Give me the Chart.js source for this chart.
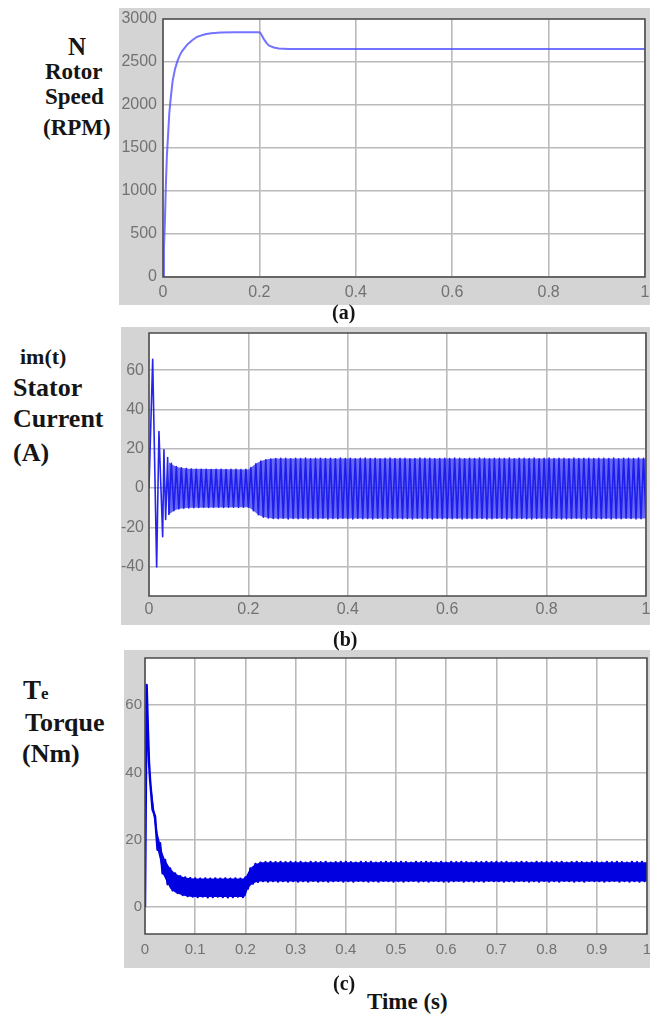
<!DOCTYPE html>
<html><head><meta charset="utf-8">
<script src="https://cdn.jsdelivr.net/npm/chart.js@4.4.1/dist/chart.umd.min.js"></script>
<style>
html,body{margin:0;padding:0;background:#fff;}
body{width:650px;height:1015px;position:relative;overflow:hidden;}
.panel{position:absolute;background:#d4d4d4;}
.panel canvas{display:block;}
.lbl{position:absolute;font-family:"Liberation Serif","Times New Roman",serif;font-weight:bold;color:#151515;line-height:1;white-space:nowrap;}
</style></head><body>

<div class="panel" style="left:119px;top:8px;width:531px;height:297px"><canvas id="cA" width="531" height="297"></canvas></div>
<div class="panel" style="left:121px;top:327px;width:529px;height:298px"><canvas id="cB" width="529" height="298"></canvas></div>
<div class="panel" style="left:124px;top:650px;width:526px;height:318px"><canvas id="cC" width="526" height="318"></canvas></div>

<div class="lbl" style="left:68px;top:34px;font-size:25px">N</div>
<div class="lbl" style="left:45px;top:60px;font-size:23px">Rotor</div>
<div class="lbl" style="left:45px;top:85px;font-size:23px">Speed</div>
<div class="lbl" style="left:43px;top:116px;font-size:23px">(RPM)</div>
<div class="lbl" style="left:332px;top:302px;font-size:20px">(a)</div>

<div class="lbl" style="left:20px;top:346px;font-size:22px">im(t)</div>
<div class="lbl" style="left:13px;top:375px;font-size:26px">Stator</div>
<div class="lbl" style="left:13px;top:406px;font-size:26px">Current</div>
<div class="lbl" style="left:13px;top:440px;font-size:26px">(A)</div>
<div class="lbl" style="left:333px;top:629px;font-size:20px">(b)</div>

<div class="lbl" style="left:23px;top:677px;font-size:27px">T<span style="font-size:17px">e</span></div>
<div class="lbl" style="left:25px;top:710px;font-size:26px">Torque</div>
<div class="lbl" style="left:22px;top:741px;font-size:26px">(Nm)</div>
<div class="lbl" style="left:333px;top:973px;font-size:20px">(c)</div>
<div class="lbl" style="left:367px;top:990px;font-size:23px">Time (s)</div>

<script>
// ---------- data ----------
const speedTime = [0, 0.002, 0.004, 0.006, 0.008, 0.010, 0.013, 0.016, 0.020, 0.025, 0.030, 0.035, 0.040,
  0.050, 0.060, 0.070, 0.080, 0.090, 0.100, 0.120, 0.150, 0.180, 0.200, 0.203, 0.206, 0.210, 0.215,
  0.220, 0.230, 0.240, 0.260, 0.300, 0.400, 0.500, 0.600, 0.700, 0.800, 0.900, 1.000];
const speedRPM = [0, 330, 650, 1080, 1400, 1600, 1900, 2080, 2280, 2420, 2510, 2580, 2630,
  2700, 2750, 2790, 2810, 2825, 2835, 2842, 2845, 2845, 2845, 2830, 2800, 2760, 2720,
  2690, 2668, 2658, 2652, 2650, 2650, 2650, 2650, 2650, 2650, 2650, 2650];

const stepTime = [
  0.010,0.015,0.020,0.025,0.030,0.035,0.040,0.045,0.050,0.055,0.060,0.065,0.070,0.075,0.080,0.085,0.090,0.095,
  0.100,0.105,0.110,0.115,0.120,0.125,0.130,0.135,0.140,0.145,0.150,0.155,0.160,0.165,0.170,0.175,0.180,0.185,0.190,0.195,
  0.200,0.205,0.210,0.215,0.220,0.225,0.230,0.235,0.240,0.245,0.250,0.255,0.260,0.265,0.270,0.275,0.280,0.285,0.290,0.295,
  0.300,0.305,0.310,0.315,0.320,0.325,0.330,0.335,0.340,0.345,0.350,0.355,0.360,0.365,0.370,0.375,0.380,0.385,0.390,0.395,
  0.400,0.405,0.410,0.415,0.420,0.425,0.430,0.435,0.440,0.445,0.450,0.455,0.460,0.465,0.470,0.475,0.480,0.485,0.490,0.495,
  0.500,0.505,0.510,0.515,0.520,0.525,0.530,0.535,0.540,0.545,0.550,0.555,0.560,0.565,0.570,0.575,0.580,0.585,0.590,0.595,
  0.600,0.605,0.610,0.615,0.620,0.625,0.630,0.635,0.640,0.645,0.650,0.655,0.660,0.665,0.670,0.675,0.680,0.685,0.690,0.695,
  0.700,0.705,0.710,0.715,0.720,0.725,0.730,0.735,0.740,0.745,0.750,0.755,0.760,0.765,0.770,0.775,0.780,0.785,0.790,0.795,
  0.800,0.805,0.810,0.815,0.820,0.825,0.830,0.835,0.840,0.845,0.850,0.855,0.860,0.865,0.870,0.875,0.880,0.885,0.890,0.895,
  0.900,0.905,0.910,0.915,0.920,0.925,0.930,0.935,0.940,0.945,0.950,0.955,0.960,0.965,0.970,0.975,0.980,0.985,0.990,0.995,
  1.000];

const currentEarlyTime = [0, 0.0074, 0.0154, 0.020, 0.0275, 0.030, 0.0335, 0.0375];
const currentEarly = [0, 65.6, -40.2, 28.8, -24.8, 19.5, -16.0, 15.5];
const currentSteps = [ // from t = 0.040
  -13.5, 12.6, -11.6, 11.0, -10.6, 10.3, -10.3, 10.0, -10.1, 9.7, -10.0, 9.6,
  -9.9, 9.5, -9.8, 9.6, -9.9, 9.4, -9.8, 9.5, -9.7, 9.6, -9.9, 9.4, -9.8, 9.5, -9.8, 9.6, -9.9, 9.4, -9.8, 9.5,
  -9.8, 10.4, -11.6, 12.4, -13.6, 13.8, -14.8, 14.4, -15.3, 14.8, -15.5, 15.0, -15.6, 15.2, -15.4, 15.1, -15.7, 14.9, -15.5, 15.2,
  -15.6, 15.0, -15.4, 15.3, -15.7, 14.9, -15.5, 15.1, -15.6, 15.2, -15.4, 15.0, -15.7, 15.1, -15.5, 14.9, -15.6, 15.3, -15.4, 15.0,
  -15.5, 15.2, -15.7, 14.9, -15.4, 15.1, -15.6, 15.3, -15.5, 15.0, -15.7, 15.2, -15.4, 14.9, -15.6, 15.1, -15.5, 15.3, -15.6, 15.0,
  -15.4, 15.1, -15.6, 15.2, -15.5, 14.9, -15.7, 15.0, -15.4, 15.3, -15.6, 15.1, -15.5, 15.2, -15.7, 14.9, -15.4, 15.0, -15.6, 15.2,
  -15.5, 15.0, -15.6, 15.3, -15.4, 15.1, -15.7, 14.9, -15.5, 15.2, -15.6, 15.0, -15.4, 15.3, -15.5, 15.1, -15.7, 14.9, -15.6, 15.2,
  -15.4, 15.2, -15.5, 15.0, -15.7, 15.3, -15.6, 14.9, -15.4, 15.1, -15.5, 15.2, -15.6, 15.0, -15.7, 15.3, -15.5, 14.9, -15.4, 15.1,
  -15.6, 15.3, -15.5, 15.0, -15.4, 15.2, -15.7, 15.1, -15.6, 14.9, -15.5, 15.3, -15.4, 15.0, -15.6, 15.2, -15.7, 15.1, -15.5, 15.0,
  -15.5, 15.1, -15.6, 15.2, -15.4, 15.0, -15.7, 15.3, -15.5, 14.9, -15.6, 15.1, -15.4, 15.2, -15.5, 15.0, -15.7, 15.3, -15.6, 15.1,
  -15.5];
// envelope of the dense current oscillation
const currentBandTime = [0.040, 0.050, 0.060, 0.080, 0.200, 0.205, 0.210, 0.215, 0.220, 0.225, 0.230, 0.240, 0.250, 1.000];
const currentUpper = [13.0, 11.5, 10.5, 9.8, 9.5, 10.4, 11.5, 12.4, 13.2, 13.8, 14.2, 14.8, 15.1, 15.1];
const currentLower = [-13.5, -11.6, -10.6, -10.0, -9.8, -10.5, -11.6, -12.6, -13.6, -14.3, -14.8, -15.3, -15.5, -15.5];

const torqueEarlyTime = [0, 0.0033, 0.006, 0.008];
const torqueEarly = [0, 66, 52, 43];
const torqueSteps = [ // from t = 0.010
  38, 29, 27, 17, 19, 10, 14, 6.8, 11.5, 5.0, 10.0, 4.2, 9.2, 3.6, 8.8, 3.3, 8.6, 3.1,
  8.5, 3.0, 8.4, 3.1, 8.5, 2.9, 8.4, 3.0, 8.5, 3.1, 8.4, 3.0, 8.5, 2.9, 8.4, 3.0, 8.5, 3.1, 8.4, 3.0,
  8.8, 5.5, 11.5, 7.0, 12.8, 7.5, 13.2, 7.7, 13.3, 7.6, 13.4, 7.7, 13.3, 7.6, 13.4, 7.7, 13.3, 7.6, 13.4, 7.7,
  13.3, 7.6, 13.4, 7.7, 13.2, 7.6, 13.4, 7.8, 13.3, 7.6, 13.3, 7.7, 13.4, 7.6, 13.2, 7.7, 13.3, 7.8, 13.4, 7.6,
  13.4, 7.7, 13.3, 7.6, 13.2, 7.8, 13.4, 7.7, 13.3, 7.6, 13.4, 7.7, 13.2, 7.6, 13.3, 7.8, 13.4, 7.7, 13.3, 7.6,
  13.3, 7.7, 13.4, 7.6, 13.3, 7.7, 13.2, 7.8, 13.4, 7.6, 13.3, 7.7, 13.4, 7.6, 13.3, 7.8, 13.2, 7.7, 13.4, 7.6,
  13.2, 7.6, 13.4, 7.7, 13.3, 7.8, 13.4, 7.6, 13.3, 7.7, 13.2, 7.6, 13.4, 7.7, 13.3, 7.6, 13.4, 7.8, 13.3, 7.7,
  13.4, 7.7, 13.3, 7.6, 13.4, 7.7, 13.2, 7.6, 13.3, 7.8, 13.4, 7.7, 13.3, 7.6, 13.2, 7.7, 13.4, 7.6, 13.3, 7.8,
  13.3, 7.6, 13.4, 7.7, 13.3, 7.6, 13.4, 7.8, 13.2, 7.7, 13.3, 7.6, 13.4, 7.7, 13.3, 7.6, 13.2, 7.8, 13.4, 7.7,
  13.3, 7.7, 13.2, 7.6, 13.4, 7.7, 13.3, 7.8, 13.4, 7.6, 13.3, 7.7, 13.2, 7.6, 13.4, 7.7, 13.3, 7.6, 13.4, 7.7,
  13.3];
// envelope of the dense torque ripple
const torqueBandTime = [0.010, 0.015, 0.020, 0.025, 0.030, 0.035, 0.040, 0.050, 0.060, 0.070, 0.080, 0.090, 0.100,
  0.195, 0.200, 0.205, 0.210, 0.215, 0.220, 0.225, 0.230, 1.000];
const torqueUpper = [38, 33, 27, 22, 19, 16, 14, 11.5, 10, 9.2, 8.8, 8.6, 8.5,
  8.5, 8.8, 10.2, 11.5, 12.2, 12.8, 13.0, 13.3, 13.3];
const torqueLower = [38, 29, 24, 17, 14, 10, 8.5, 5.5, 4.3, 3.7, 3.3, 3.1, 3.0,
  3.0, 3.2, 5.5, 6.3, 7.0, 7.3, 7.5, 7.6, 7.6];

const xTicksAB = [0, 0.2, 0.4, 0.6, 0.8, 1];
const xTicksC = [0, 0.1, 0.2, 0.3, 0.4, 0.5, 0.6, 0.7, 0.8, 0.9, 1];
const yTicksA = [0, 500, 1000, 1500, 2000, 2500, 3000];
const yTicksB = [-40, -20, 0, 20, 40, 60];
const yTicksC = [0, 20, 40, 60];

const currentTime = currentEarlyTime.concat(stepTime.slice(6));
const currentA = currentEarly.concat(currentSteps);
const torqueTime = torqueEarlyTime.concat(stepTime);
const torqueNm = torqueEarly.concat(torqueSteps);

// ---------- drawing ----------
const pts = (xs, ys) => xs.map((x, i) => ({x: x, y: ys[i]}));

const framePlugin = {
  id: 'frame',
  beforeDraw(chart) {
    const {ctx, chartArea: a} = chart;
    ctx.save(); ctx.fillStyle = '#ffffff';
    ctx.fillRect(a.left, a.top, a.right - a.left, a.bottom - a.top);
    ctx.restore();
  },
  afterDraw(chart) {
    const {ctx, chartArea: a} = chart;
    ctx.save(); ctx.strokeStyle = '#4a4a4a'; ctx.lineWidth = 1.5;
    ctx.strokeRect(a.left, a.top, a.right - a.left, a.bottom - a.top);
    ctx.restore();
  }
};

function panelChart(id, c) {
  const tickFont = {family: '"Liberation Sans", Arial, sans-serif', size: c.fontSize};
  const gridColor = '#bababa';
  const datasets = [{data: pts(c.times, c.values), borderColor: c.color, borderWidth: c.lw,
    pointRadius: 0, tension: 0, borderJoinStyle: 'round', fill: false}];
  if (c.band) {
    datasets.push({data: pts(c.band.t, c.band.hi), borderColor: 'transparent', backgroundColor: c.band.fill,
      pointRadius: 0, tension: 0, fill: '+1'});
    datasets.push({data: pts(c.band.t, c.band.lo), borderColor: 'transparent',
      pointRadius: 0, tension: 0, fill: false});
  }
  return new Chart(document.getElementById(id), {
    type: 'line',
    data: {datasets: datasets},
    options: {
      responsive: false, animation: false, events: [],
      layout: {padding: {top: c.padTop, right: c.padRight, left: 0, bottom: 0}},
      plugins: {legend: {display: false}, tooltip: {enabled: false}},
      scales: {
        x: {type: 'linear', min: 0, max: 1,
          afterBuildTicks: s => { s.ticks = c.xTicks.map(v => ({value: v})); },
          afterFit: s => { s.height = c.xH; s.paddingLeft = 0; s.paddingRight = 0; },
          ticks: {font: tickFont, color: '#727272', padding: c.xPad, maxRotation: 0, autoSkip: false,
            callback: v => String(v)},
          grid: {color: gridColor, lineWidth: 1.6, drawTicks: false},
          border: {display: false}},
        y: {type: 'linear', min: c.yMin, max: c.yMax,
          afterBuildTicks: s => { s.ticks = c.yTicks.map(v => ({value: v})); },
          afterFit: s => { s.width = c.yW; s.paddingTop = 0; s.paddingBottom = 0; },
          ticks: {font: tickFont, color: '#727272', padding: c.yPad, callback: v => String(v)},
          grid: {color: gridColor, lineWidth: 1.6, drawTicks: false},
          border: {display: false}}
      }
    },
    plugins: [framePlugin]
  });
}

panelChart('cA', {times: speedTime, values: speedRPM, color: 'rgba(80,80,255,0.8)', lw: 2,
  padTop: 11, padRight: 5, xH: 28, yW: 44, xPad: 6, yPad: 6, fontSize: 16,
  yMin: 0, yMax: 3000, xTicks: xTicksAB, yTicks: yTicksA});
panelChart('cB', {times: currentTime, values: currentA, color: 'rgba(25,25,235,0.95)', lw: 1.6,
  band: {t: currentBandTime, hi: currentUpper, lo: currentLower, fill: 'rgba(45,45,240,0.72)'},
  padTop: 6, padRight: 4, xH: 29, yW: 28, xPad: 4, yPad: 5, fontSize: 16,
  yMin: -55, yMax: 79, xTicks: xTicksAB, yTicks: yTicksB});
panelChart('cC', {times: torqueTime, values: torqueNm, color: '#0000e0', lw: 2.4,
  band: {t: torqueBandTime, hi: torqueUpper, lo: torqueLower, fill: '#0000e0'},
  padTop: 8, padRight: 3, xH: 34, yW: 21, xPad: 7, yPad: 3, fontSize: 15,
  yMin: -8, yMax: 74, xTicks: xTicksC, yTicks: yTicksC});
</script>
</body></html>
